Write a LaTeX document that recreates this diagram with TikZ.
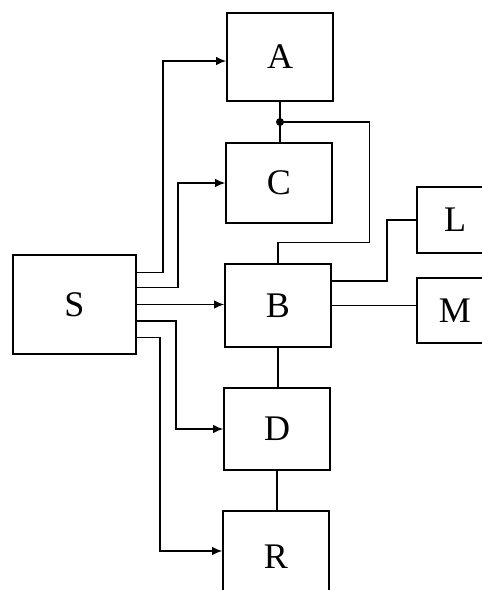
\documentclass[tikz,border=0pt]{standalone}
\usepackage{fontspec}
\setmainfont{Liberation Serif}
\usetikzlibrary{arrows.meta}

\tikzset{
  block/.style={draw, line width=1pt, inner sep=0pt, minimum width=2.12cm,
    font=\fontsize{20.5}{24}\selectfont},
  wire/.style={line width=0.8pt},
  arr/.style={wire, -{Latex[length=2mm,width=1.7mm]}}
}

\begin{document}
\begin{tikzpicture}[x=0.02cm, y=-0.02cm]
            \useasboundingbox (0,0) rectangle (482,590);
            \node[block, minimum height=1.76cm] (A) at (280,57) {A};
            \node[block, minimum height=1.6cm] (C) at (279,183) {C};
            \node[block, minimum height=1.66cm] (B) at (278,305.5) {B};
            \node[block, minimum height=1.64cm] (D) at (277,429) {D};
            \node[block, minimum height=1.84cm] (R) at (276,557) {R};
            \node[block, minimum width=2.46cm, minimum height=1.98cm] (S) at (74.5,304.5) {S};
            \node[block, minimum width=1.52cm, minimum height=1.32cm] (L) at (455,220) {L};
            \node[block, minimum width=1.52cm, minimum height=1.3cm] (M) at (455,310.5) {M};
            \coordinate (j) at (280,122);
            % S to the blocks
            \draw[arr] ([yshift=0.64cm]S.east) -- ++(0.52cm,0) |- ([yshift=-0.08cm]A.west);
            \draw[arr] ([yshift=0.34cm]S.east) -- ++(0.82cm,0) |- (C.west);
            \draw[arr] (S.east) -- (S.east -| B.west);
            \draw[arr] ([yshift=-0.33cm]S.east) -- ++(0.78cm,0) |- (D.west);
            \draw[arr] ([yshift=-0.66cm]S.east) -- ++(0.46cm,0) |- ([yshift=0.12cm]R.west);
            % links without arrows
            \draw[wire] (A.south) -- (A.south |- C.north);
            \fill (j) circle (0.08cm);
            \draw[wire] (j) -- ++(1.79cm,0) |- ([yshift=0.41cm]B.north) -- (B.north);
            \draw[wire] ([yshift=0.49cm]B.east) -- ++(1.1cm,0) |- (L.west);
            \draw[wire] (B.east) -- (B.east -| M.west);
            \draw[wire] (B.south) -- (B.south |- D.north);
            \draw[wire] (D.south) -- (D.south |- R.north);
        \end{tikzpicture}
\end{document}
